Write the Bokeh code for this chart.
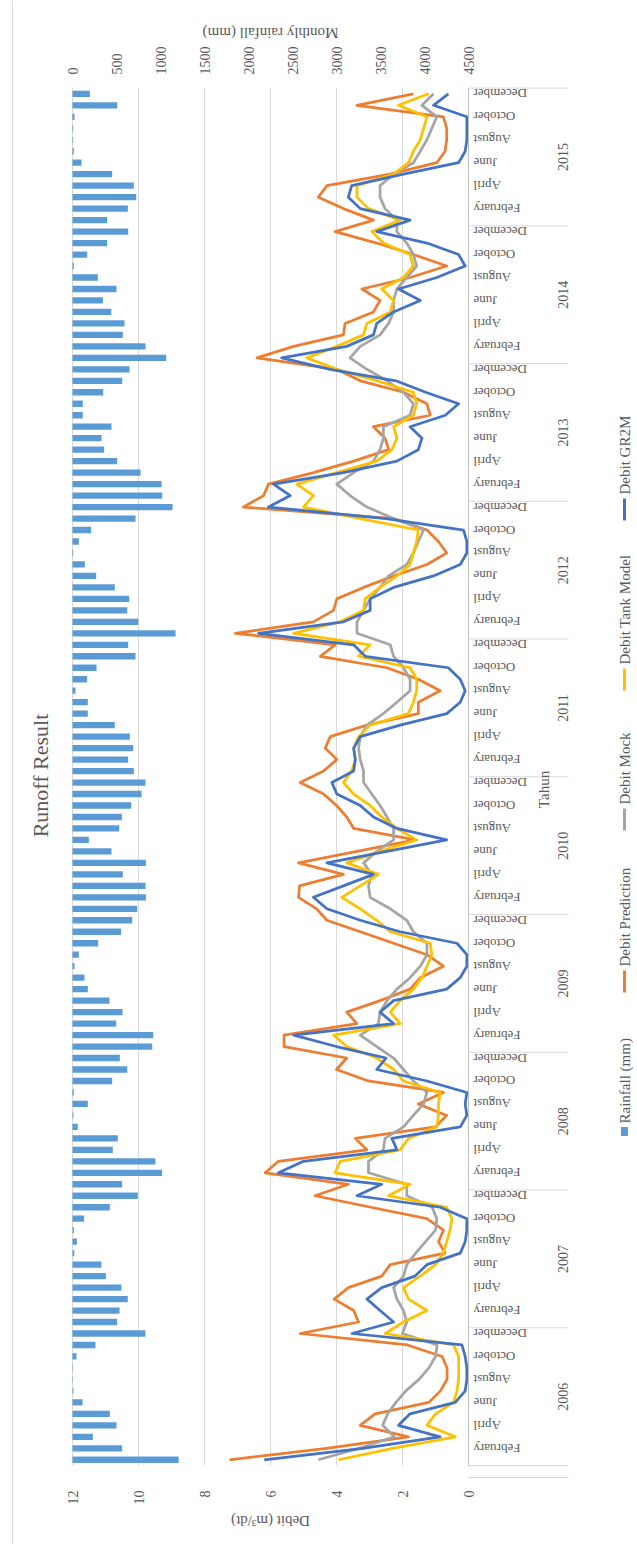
import numpy as np
from bokeh.plotting import figure
from bokeh.models import Range1d, Label, ColumnDataSource
from bokeh.core.properties import value
from bokeh.embed import file_html
from bokeh.resources import INLINE

# ---------------- data ----------------
years = [2006, 2007, 2008, 2009, 2010, 2011, 2012, 2013, 2014, 2015]
month_names = ["January", "February", "March", "April", "May", "June", "July",
               "August", "September", "October", "November", "December"]

rainfall_mm = [
    1207, 564, 231, 500, 424, 114, 10, 5, 5, 45, 261, 829,
    507, 534, 628, 556, 379, 329, 20, 50, 15, 132, 424, 742,
    564, 1018, 942, 458, 515, 60, 10, 174, 15, 451, 622, 538,
    906, 917, 497, 569, 421, 174, 136, 23, 72, 292, 553, 678,
    735, 834, 830, 572, 834, 443, 186, 531, 561, 667, 785, 830,
    697, 633, 690, 652, 481, 174, 174, 34, 167, 273, 716, 633,
    1171, 747, 622, 644, 481, 269, 140, 8, 72, 212, 716, 1137,
    1020, 1012, 773, 508, 360, 330, 443, 117, 117, 349, 565, 648,
    1065, 830, 572, 591, 440, 345, 500, 288, 15, 167, 394, 633,
    394, 629, 724, 697, 451, 102, 15, 8, 8, 23, 508, 197,
]

debit_prediction = [
    7.24, 4.3, 1.82, 3.28, 2.83, 1.2, 0.85, 0.65, 0.65, 0.8, 1.85, 5.1,
    3.33, 3.48, 4.07, 3.64, 2.63, 2.37, 0.71, 0.91, 0.76, 1.26, 2.96, 4.65,
    3.64, 6.16, 5.76, 3.08, 3.43, 1.0, 0.66, 1.52, 0.76, 3.03, 4.0, 3.69,
    5.59, 5.59, 3.38, 3.69, 2.68, 1.77, 1.46, 0.76, 1.26, 2.27, 3.28, 4.29,
    4.6, 5.15, 5.12, 3.79, 5.15, 3.38, 1.62, 3.48, 3.69, 4.0, 4.39, 5.1,
    4.39, 3.99, 4.34, 4.19, 3.08, 1.52, 1.52, 0.86, 1.52, 2.47, 4.49, 4.04,
    7.07, 4.7, 4.09, 3.99, 3.18, 2.27, 1.26, 0.66, 0.91, 1.26, 2.27, 6.82,
    6.21, 6.06, 4.7, 3.48, 2.42, 2.53, 2.88, 1.16, 1.26, 1.97, 3.28, 3.99,
    6.41, 5.3, 3.79, 3.74, 2.88, 2.68, 3.23, 1.77, 0.66, 1.67, 2.78, 4.04,
    2.88, 3.79, 4.55, 4.29, 2.37, 0.96, 0.71, 0.66, 0.66, 0.76, 3.38, 1.67,
]

debit_mock = [
    4.55, 3.3, 2.25, 2.6, 2.45, 2.2, 1.9, 1.5, 1.2, 1.0, 0.95, 2.0,
    1.87, 1.97, 2.17, 2.27, 1.97, 1.87, 1.6, 1.3, 1.0, 0.96, 1.1, 1.87,
    1.87, 3.03, 3.03, 2.58, 2.53, 1.97, 1.67, 1.36, 1.26, 1.67, 1.97, 2.27,
    2.78, 3.28, 2.73, 2.68, 2.47, 2.17, 1.77, 1.46, 1.26, 1.26, 1.67, 1.87,
    2.37, 2.98, 3.03, 2.93, 3.18, 2.78, 2.27, 2.27, 2.47, 2.68, 2.93, 3.18,
    3.18, 3.28, 3.33, 3.28, 3.08, 2.58, 2.17, 1.77, 1.77, 1.97, 2.27, 2.37,
    3.38, 3.38, 3.18, 2.98, 2.68, 2.42, 1.87, 1.67, 1.52, 1.36, 2.27, 3.08,
    3.59, 3.99, 3.48, 2.88, 2.68, 2.58, 2.58, 1.77, 1.67, 1.97, 2.47, 3.08,
    3.59, 3.28, 2.68, 2.42, 2.27, 2.27, 2.17, 1.87, 1.57, 1.67, 1.87, 2.17,
    2.17, 2.53, 2.68, 2.68, 2.27, 1.67, 1.46, 1.26, 1.11, 0.96, 1.41, 1.06,
]

debit_tank_model = [
    3.94, 2.3, 0.4, 1.26, 1.0, 0.45, 0.35, 0.3, 0.3, 0.3, 0.45, 2.52,
    1.97, 1.26, 1.82, 1.97, 1.46, 1.0, 0.76, 0.66, 0.56, 0.5, 0.66, 2.42,
    1.77, 4.04, 3.89, 2.07, 1.82, 0.96, 0.91, 0.91, 0.86, 1.97, 2.27, 2.78,
    3.69, 4.09, 2.07, 2.37, 2.07, 1.67, 1.41, 1.26, 1.11, 1.16, 2.37, 2.78,
    3.28, 3.84, 3.28, 2.73, 3.69, 2.68, 1.57, 2.17, 2.63, 2.98, 3.48, 3.79,
    3.54, 3.43, 3.48, 3.33, 2.98, 1.82, 1.67, 1.57, 1.57, 1.77, 3.33, 2.98,
    5.3, 3.89, 3.18, 3.13, 2.68, 2.17, 1.77, 1.67, 1.57, 1.52, 3.28, 5.0,
    4.7, 5.2, 3.99, 2.78, 2.32, 2.17, 2.27, 1.67, 1.57, 1.67, 2.78, 3.99,
    4.9, 3.99, 3.18, 3.08, 2.37, 2.27, 2.63, 1.97, 1.67, 1.77, 2.58, 2.93,
    2.07, 3.03, 3.38, 3.38, 2.27, 1.82, 1.67, 1.46, 1.36, 1.26, 2.12, 1.21,
]

debit_gr2m = [
    6.19, 3.2, 0.86, 2.12, 1.77, 0.4, 0.1, 0.05, 0.05, 0.1, 0.2, 3.53,
    2.27, 2.68, 3.08, 2.63, 1.62, 1.26, 0.25, 0.1, 0.05, 0.05, 0.86, 3.38,
    2.63, 5.76, 5.0, 2.17, 2.32, 0.25, 0.05, 0.1, 0.05, 1.26, 2.78, 2.5,
    4.0, 5.3, 2.27, 2.68, 2.27, 0.66, 0.25, 0.05, 0.05, 0.35, 2.07, 3.28,
    4.29, 4.7, 3.79, 2.88, 4.29, 2.47, 0.66, 2.17, 2.88, 3.28, 3.99, 4.14,
    3.48, 3.43, 3.48, 3.28, 2.07, 0.66, 0.25, 0.1, 0.25, 0.61, 3.13, 3.48,
    6.36, 3.79, 2.98, 2.98, 2.27, 1.06, 0.25, 0.05, 0.05, 0.15, 2.5, 6.06,
    5.4, 5.91, 3.79, 2.17, 1.52, 1.41, 1.77, 0.7, 0.3, 1.3, 2.2, 4.2,
    5.66, 3.69, 2.88, 2.78, 2.27, 1.46, 2.12, 0.96, 0.1, 0.3, 1.26, 2.78,
    1.77, 3.28, 3.64, 3.54, 1.97, 0.3, 0.1, 0.05, 0.05, 0.05, 1.06, 0.61,
]

debit_ticks = [0, 2, 4, 6, 8, 10, 12]
rain_ticks = [0, 500, 1000, 1500, 2000, 2500, 3000, 3500, 4000, 4500]

series_names = ["Rainfall (mm)", "Debit Prediction", "Debit Mock",
                "Debit Tank Model", "Debit GR2M"]
series_colors = ["#5b9bd5", "#ed7d31", "#a5a5a5", "#ffc000", "#4472c4"]

# ---------------- layout (page pixels; the chart is drawn turned 90 degrees) ----------------
W, H = 637, 1544
PL, PR, PT, PB = 72.0, 468.0, 87.6, 1465.0   # plot area on the page
NM = len(rainfall_mm)
DEBIT_MAX, RAIN_MAX = 12.0, 4500.0
px_per_debit = (PR - PL) / DEBIT_MAX
px_per_rain = (PR - PL) / RAIN_MAX
px_per_month = (PB - PT) / NM


def dxp(px):          # page x -> debit units
    return (PR - px) / px_per_debit


def rxp(px):          # page x -> rainfall units
    return (px - PL) / px_per_rain


def dyp(py):          # page y -> month index units
    return (PB - py) / px_per_month - 0.5


FONT = "Liberation Serif"
TXT = "#595959"
GRID = "#d9d9d9"

idx = list(range(NM))

p = figure(width=W, height=H, output_backend="svg", toolbar_location=None,
           x_range=Range1d(dxp(0), dxp(W)), y_range=Range1d(dyp(H), dyp(0)),
           x_axis_location=None, y_axis_location=None,
           min_border_left=0, min_border_right=0, min_border_top=0, min_border_bottom=0)
p.outline_line_color = None
p.background_fill_color = "white"
p.border_fill_color = "white"
p.grid.visible = False
p.extra_x_ranges = {"rain": Range1d(rxp(0), rxp(W))}

# gridlines at the debit ticks
gt = debit_ticks[1:]
p.segment(x0=gt, y0=[-0.5] * len(gt), x1=gt, y1=[NM - 0.5] * len(gt),
          line_color=GRID, line_width=1)

# debit tick labels (bottom), reading bottom-to-top
p.text(x=debit_ticks, y=[dyp(1490)] * len(debit_ticks), text=[str(t) for t in debit_ticks],
       angle=np.pi / 2, text_align="right", text_baseline="middle",
       text_font=value(FONT), text_font_size="14px", text_color=TXT)

# rainfall tick labels (top)
p.text(x=rain_ticks, y=[dyp(74)] * len(rain_ticks), text=[str(t) for t in rain_ticks],
       x_range_name="rain", angle=np.pi / 2, text_align="left", text_baseline="middle",
       text_font=value(FONT), text_font_size="14px", text_color=TXT)

# rainfall bars
p.hbar(y=idx, left=0, right=rainfall_mm, height=0.55, x_range_name="rain",
       fill_color=series_colors[0], line_color=None)

# debit lines
for vals, col in zip([debit_prediction, debit_mock, debit_tank_model, debit_gr2m],
                     series_colors[1:]):
    p.line(x=vals, y=idx, line_color=col, line_width=2.75, line_join="round")

# category axis line
p.segment(x0=[0], y0=[-0.5], x1=[0], y1=[NM - 0.5], line_color="#bfbfbf", line_width=1)

# year separators (plus the outer boundary below the axis)
x_sep_end = dxp(568)
yb = [k * 12 - 0.5 for k in range(len(years) + 1)] + [dyp(1477)]
p.segment(x0=[0] * len(yb), y0=yb, x1=[x_sep_end] * len(yb), y1=yb,
          line_color=GRID, line_width=1)

# month labels (every other month), upside down
m_idx = [i for i in idx if i % 12 in (1, 3, 5, 7, 9, 11)]
msrc = ColumnDataSource(dict(x=[dxp(473)] * len(m_idx), y=m_idx,
                             text=[month_names[i % 12] for i in m_idx]))
p.text(x="x", y="y", text="text", source=msrc, angle=np.pi,
       text_align="right", text_baseline="middle",
       text_font=value(FONT), text_font_size="13px", text_color=TXT)

# year labels
ysrc = ColumnDataSource(dict(x=[dxp(562)] * len(years),
                             y=[k * 12 + 5.5 for k in range(len(years))],
                             text=[str(y) for y in years]))
p.text(x="x", y="y", text="text", source=ysrc, angle=np.pi / 2,
       text_align="center", text_baseline="middle",
       text_font=value(FONT), text_font_size="14px", text_color=TXT)

# titles
p.add_layout(Label(x=dxp(40), y=dyp(775), text="Runoff Result", angle=np.pi / 2,
                   text_align="center", text_baseline="middle", text_font=FONT,
                   text_font_size="22px", text_color=TXT))
p.add_layout(Label(x=DEBIT_MAX / 2, y=dyp(1520), text="Debit (m\u00b3/dt)", angle=np.pi,
                   text_align="center", text_baseline="middle", text_font=FONT,
                   text_font_size="15px", text_color=TXT))
p.add_layout(Label(x=DEBIT_MAX / 2, y=dyp(32), text="Monthly rainfall (mm)", angle=np.pi,
                   text_align="center", text_baseline="middle", text_font=FONT,
                   text_font_size="15px", text_color=TXT))
p.add_layout(Label(x=dxp(543), y=dyp(789), text="Tahun", angle=np.pi / 2,
                   text_align="center", text_baseline="middle", text_font=FONT,
                   text_font_size="15px", text_color=TXT))

# legend (vertical, reading bottom to top)
leg_x = dxp(624)
leg_starts = [1137, 992, 830, 690, 520]   # page y of swatch bottom
for name, col, y0 in zip(series_names, series_colors, leg_starts):
    if name.startswith("Rainfall"):
        p.rect(x=[leg_x], y=[dyp(y0 - 6)], width=7 / px_per_debit, height=9 / px_per_month,
               fill_color=col, line_color=None)
        t0 = y0 - 14
    else:
        p.segment(x0=[leg_x], y0=[dyp(y0)], x1=[leg_x], y1=[dyp(y0 - 22)],
                  line_color=col, line_width=3)
        t0 = y0 - 26
    p.add_layout(Label(x=leg_x, y=dyp(t0), text=name, angle=np.pi / 2,
                       text_align="left", text_baseline="middle", text_font=FONT,
                       text_font_size="15px", text_color=TXT))

# outer chart border (left edge)
p.segment(x0=[dxp(12)], y0=[dyp(0)], x1=[dxp(12)], y1=[dyp(H)],
          line_color=GRID, line_width=1)

open("out.html", "w").write(file_html(p, INLINE))
